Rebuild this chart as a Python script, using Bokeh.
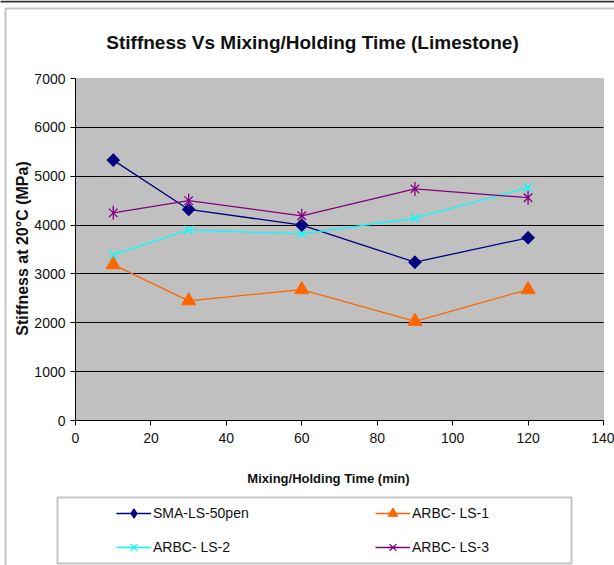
import math
from bokeh.plotting import figure
from bokeh.models import (Range1d, FixedTicker, Legend, LegendItem, Label,
                          BoxAnnotation)
from bokeh.embed import file_html
from bokeh.resources import INLINE

# Data: stiffness (MPa) against mixing/holding time (min)
times = [10, 30, 60, 90, 120]
sma_ls_50pen = [5330, 4320, 4000, 3240, 3740]
arbc_ls_1 = [3190, 2450, 2680, 2030, 2680]
arbc_ls_2 = [3390, 3900, 3820, 4140, 4770]
arbc_ls_3 = [4250, 4500, 4190, 4740, 4560]

x_ticks = [0, 20, 40, 60, 80, 100, 120, 140]
y_ticks = [0, 1000, 2000, 3000, 4000, 5000, 6000, 7000]

title_text = "Stiffness Vs Mixing/Holding Time (Limestone)"
x_title = "Mixing/Holding Time (min)"
y_title = "Stiffness at 20°C (MPa)"

W, H = 614, 565
LEFT, RIGHT, TOP, BOTTOM = 75, 603, 78, 420   # plot area on the canvas
X0, X1, Y0, Y1 = 0, 140, 0, 7000

FONT = "Liberation Sans"

SX = (X1 - X0) / (RIGHT - LEFT)
SY = (Y1 - Y0) / (BOTTOM - TOP)


def px(cx):
    """canvas x pixel -> data x"""
    return X0 + (cx - LEFT) * SX


def py(cy):
    """canvas y pixel -> data y"""
    return Y0 + (BOTTOM - cy) * SY


# The frame covers the whole canvas; the plot area is a sub-rectangle of it,
# so titles, legend and frames are drawn without being clipped.
p = figure(width=W, height=H, output_backend="svg", toolbar_location=None,
           x_range=Range1d(px(0), px(W)), y_range=Range1d(py(H), py(0)),
           min_border=0, min_border_left=0, min_border_right=0,
           min_border_top=0, min_border_bottom=0)
p.title.visible = False
p.background_fill_color = "white"
p.border_fill_color = "white"
p.outline_line_color = None

# grey plot area
p.add_layout(BoxAnnotation(left=X0, right=X1, bottom=Y0, top=Y1,
                           fill_color="#C0C0C0", fill_alpha=1,
                           line_color="#808080", line_width=1,
                           level="image"))

# axes pinned to the plot area
p.xaxis.fixed_location = Y0
p.yaxis.fixed_location = X0
p.xaxis.bounds = (X0, X1)
p.yaxis.bounds = (Y0, Y1)
for ax, ticks in ((p.xaxis[0], x_ticks), (p.yaxis[0], y_ticks)):
    ax.ticker = FixedTicker(ticks=ticks)
    ax.axis_line_color = "black"
    ax.axis_line_width = 1
    ax.major_tick_line_color = "black"
    ax.major_tick_in = 0
    ax.major_tick_out = 5
    ax.minor_tick_line_color = None
    ax.major_label_text_font = FONT
    ax.major_label_text_font_size = "14px"
    ax.major_label_text_color = "#111111"
p.xaxis.major_label_standoff = 7
p.yaxis.major_label_standoff = 5

p.xgrid.visible = False
p.ygrid.ticker = FixedTicker(ticks=y_ticks[1:-1])
p.ygrid.cross_bounds = (X0, X1)
p.ygrid.grid_line_color = "black"
p.ygrid.grid_line_width = 1.2

# series
l1 = p.line(times, sma_ls_50pen, line_color="#000080", line_width=1.3)
# narrow diamond underneath the rotated squares; it also serves as legend key
m1_key = p.scatter(times, sma_ls_50pen, marker="diamond", size=12,
                   fill_color="#000080", line_color="#000080")
m1 = p.scatter(times, sma_ls_50pen, marker="square", angle=math.pi / 4,
               size=9, fill_color="#000080", line_color="#000080")

l2 = p.line(times, arbc_ls_1, line_color="#FF6600", line_width=1.3)
m2 = p.scatter(times, arbc_ls_1, marker="triangle", size=14,
               fill_color="#FF6600", line_color="#FF6600")

l3 = p.line(times, arbc_ls_2, line_color="#00FFFF", line_width=1.3)
m3 = p.scatter(times, arbc_ls_2, marker="x", size=12,
               line_color="#00FFFF", line_width=1.3)

l4 = p.line(times, arbc_ls_3, line_color="#800080", line_width=1.3)
m4a = p.scatter(times, arbc_ls_3, marker="x", size=12,
                line_color="#800080", line_width=1.3)
m4b = p.scatter(times, arbc_ls_3, marker="dash", angle=math.pi / 2, size=14,
                line_color="#800080", line_width=1.3)

# legend (two columns, two rows)
legend = Legend(items=[
    LegendItem(label="SMA-LS-50pen", renderers=[l1, m1_key]),
    LegendItem(label="ARBC- LS-1", renderers=[l2, m2]),
    LegendItem(label="ARBC- LS-2", renderers=[l3, m3]),
    LegendItem(label="ARBC- LS-3", renderers=[l4, m4a, m4b]),
], location=(116, H - 559), orientation="horizontal", ncols=2,
    glyph_width=35, glyph_height=24, label_standoff=2, label_width=212,
    label_height=24, spacing=10, padding=0, margin=0,
    border_line_color=None, background_fill_alpha=0,
    label_text_font=FONT, label_text_font_size="14px",
    label_text_color="#111111")
p.add_layout(legend, "center")

# legend frame
p.add_layout(BoxAnnotation(left=px(57), right=px(571), top=py(497),
                           bottom=py(563), fill_alpha=0,
                           line_color="#404040", line_width=2))

# chart-area frame and top rule
p.add_layout(BoxAnnotation(left=px(5), right=px(W + 20), top=py(8),
                           bottom=py(H + 20), fill_alpha=0,
                           line_color="#404040", line_width=2))
p.add_layout(BoxAnnotation(left=px(-10), right=px(W + 20), top=py(0),
                           bottom=py(2), fill_color="#333333", fill_alpha=1,
                           line_color=None))

# titles
p.add_layout(Label(x=px(312), y=py(42), text=title_text,
                   text_align="center", text_baseline="middle",
                   text_font=FONT, text_font_style="bold",
                   text_font_size="19px", text_color="#111111"))
p.add_layout(Label(x=px(328), y=py(478), text=x_title,
                   text_align="center", text_baseline="middle",
                   text_font=FONT, text_font_style="bold",
                   text_font_size="13px", text_color="#111111"))
p.add_layout(Label(x=px(22), y=py(248), text=y_title, angle=math.pi / 2,
                   text_align="center", text_baseline="middle",
                   text_font=FONT, text_font_style="bold",
                   text_font_size="16px", text_color="#111111"))

open("out.html", "w").write(file_html(p, INLINE))
